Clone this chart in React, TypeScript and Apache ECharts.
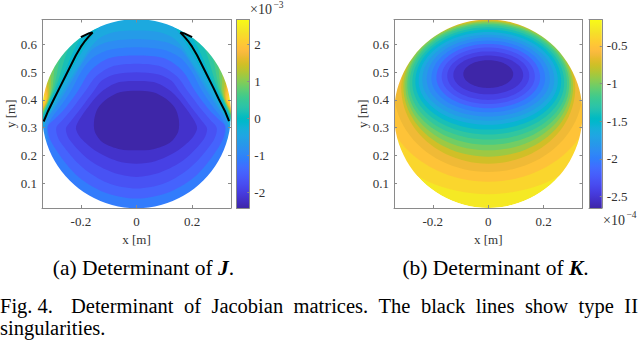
import React, { useEffect, useRef } from "react";
import * as echarts from "echarts";

// ---------- colormap (MATLAB parula, 64 entries) ----------
const PARULA: number[][] = [
  [0.2422,0.1504,0.6603],[0.2504,0.165,0.7076],[0.2578,0.1818,0.7511],[0.2647,0.1978,0.7952],
  [0.2706,0.2147,0.8364],[0.2751,0.2342,0.871],[0.2783,0.2559,0.8991],[0.2803,0.2782,0.9221],
  [0.2813,0.3006,0.9414],[0.281,0.3228,0.9579],[0.2795,0.3447,0.9717],[0.276,0.3667,0.9829],
  [0.2699,0.3892,0.9906],[0.2602,0.4123,0.9952],[0.244,0.4358,0.9988],[0.2206,0.4603,0.9973],
  [0.1963,0.4847,0.9892],[0.1834,0.5074,0.9798],[0.1786,0.5289,0.9682],[0.1764,0.5499,0.952],
  [0.1687,0.5703,0.9359],[0.154,0.5902,0.9218],[0.146,0.6091,0.9079],[0.138,0.6276,0.8973],
  [0.1248,0.6459,0.8883],[0.1113,0.6635,0.8763],[0.0952,0.6798,0.8598],[0.0689,0.6948,0.8394],
  [0.0297,0.7082,0.8163],[0.0036,0.7203,0.7917],[0.0067,0.7312,0.766],[0.0433,0.7411,0.7394],
  [0.0964,0.75,0.712],[0.1408,0.7584,0.6842],[0.1717,0.767,0.6554],[0.1938,0.7758,0.6251],
  [0.2161,0.7843,0.5923],[0.247,0.7918,0.5567],[0.2906,0.7973,0.5188],[0.3406,0.8008,0.4789],
  [0.3909,0.8029,0.4354],[0.4456,0.8024,0.3909],[0.5044,0.7993,0.348],[0.5616,0.7942,0.3045],
  [0.6174,0.7876,0.2612],[0.672,0.7793,0.2227],[0.7242,0.7698,0.191],[0.7738,0.7598,0.1646],
  [0.8203,0.7498,0.1535],[0.8634,0.7406,0.1596],[0.9035,0.733,0.1774],[0.9393,0.7288,0.21],
  [0.9728,0.7298,0.2394],[0.9956,0.7434,0.2371],[0.997,0.7659,0.2199],[0.9952,0.7893,0.2028],
  [0.9892,0.8136,0.1885],[0.9786,0.8386,0.1766],[0.9676,0.8639,0.1643],[0.961,0.889,0.1537],
  [0.9597,0.9135,0.1423],[0.9628,0.9373,0.1265],[0.9691,0.9606,0.1064],[0.9769,0.9839,0.0805],
];

// ---------- shared axes ----------
const X_RANGE = [-0.34, 0.34];
const Y_RANGE = [0.01, 0.69];
const X_TICKS = [-0.2, 0, 0.2];
const Y_TICKS = [0.1, 0.2, 0.3, 0.4, 0.5, 0.6];
const DISK = [0, 0.35, 0.34]; // centre x, centre y, radius of the workspace

// ---------- (a) determinant of J, x1e-3 ----------
const CLIM_A = [-2.43, 2.68];
const CBAR_TICKS_A = [-2, -1, 0, 1, 2];
const LEVELS_A = [-2.43, -2.17, -1.92, -1.66, -1.41, -1.15, -0.9, -0.64, -0.39, -0.13,
  0.13, 0.38, 0.64, 0.89, 1.15, 1.4, 1.66, 1.92, 2.17, 2.43];
// sublevel outlines for levels 1..9 (right half, x >= 0, top to bottom)
const CONTOURS_A: number[][][] = [
  [[0,0.433],[0.06,0.428],[0.105,0.405],[0.138,0.372],[0.152,0.33],[0.15,0.285],[0.12,0.245],[0.06,0.222],[0,0.218]],
  [[0,0.468],[0.07,0.462],[0.125,0.43],[0.17,0.38],[0.205,0.33],[0.218,0.298],[0.2,0.262],[0.14,0.212],[0.07,0.18],[0,0.17]],
  [[0,0.5],[0.08,0.492],[0.125,0.47],[0.155,0.43],[0.2,0.37],[0.235,0.325],[0.254,0.296],[0.24,0.255],[0.17,0.183],[0.087,0.139],[0,0.122]],
  [[0,0.53],[0.09,0.52],[0.145,0.485],[0.185,0.43],[0.23,0.37],[0.265,0.328],[0.289,0.298],[0.275,0.25],[0.195,0.157],[0.103,0.1],[0,0.08]],
  [[0,0.56],[0.1,0.55],[0.165,0.505],[0.212,0.43],[0.255,0.372],[0.295,0.33],[0.319,0.304],[0.305,0.245],[0.22,0.132],[0.117,0.067],[0,0.044]],
  [[0,0.59],[0.1,0.58],[0.16,0.55],[0.2,0.5],[0.237,0.43],[0.275,0.375],[0.305,0.335],[0.322,0.3],[0.325,0.235],[0.42,0.2],[0.42,-0.1],[0,-0.1]],
  [[0,0.62],[0.1,0.61],[0.155,0.585],[0.19,0.54],[0.22,0.49],[0.255,0.43],[0.29,0.375],[0.318,0.335],[0.332,0.3],[0.335,0.265],[0.43,0.22],[0.43,-0.1],[0,-0.1]],
  [[0,0.65],[0.08,0.645],[0.13,0.625],[0.165,0.59],[0.2,0.535],[0.235,0.48],[0.265,0.43],[0.298,0.375],[0.322,0.335],[0.34,0.29],[0.44,0.25],[0.44,-0.1],[0,-0.1]],
  [[0,0.8],[0.1,0.8],[0.13,0.67],[0.15,0.645],[0.18,0.6],[0.21,0.55],[0.245,0.49],[0.275,0.435],[0.303,0.38],[0.32,0.34],[0.345,0.31],[0.45,0.27],[0.45,-0.1],[0,-0.1]],
];
// superlevel lobes for levels 10..19 along the rim (angle from disk centre, deg; depth in m)
const LOBE_START = [-4, -3, -2, -1, 0, 1, 2, 3.5, 5, 7];
const LOBE_END = [54, 44, 36, 30, 25, 21, 18, 15.5, 13, 11];
const LOBE_DEPTH = [0.042, 0.034, 0.028, 0.024, 0.021, 0.018, 0.015, 0.012, 0.008, 0.005];
// type II singularity curves (det J = 0)
const SING_LEFT = [[-0.334,0.322],[-0.318,0.36],[-0.296,0.405],[-0.275,0.447],[-0.254,0.489],[-0.236,0.525],[-0.218,0.561],[-0.2,0.592],[-0.188,0.609],[-0.172,0.628],[-0.158,0.643],[-0.172,0.64],[-0.187,0.633],[-0.2,0.626]];
const SING_RIGHT = [[0.333,0.323],[0.318,0.36],[0.295,0.405],[0.275,0.447],[0.254,0.489],[0.236,0.525],[0.218,0.561],[0.2,0.592],[0.188,0.609],[0.172,0.628],[0.158,0.643],[0.172,0.64],[0.187,0.633],[0.2,0.626]];

// ---------- (b) determinant of K, x1e-4 ----------
const CLIM_B = [-2.65, -0.15];
const CBAR_TICKS_B = [-2.5, -2, -1.5, -1, -0.5];
const LEVELS_B = [-2.65, -2.525, -2.4, -2.275, -2.15, -2.025, -1.9, -1.775, -1.65, -1.525,
  -1.4, -1.275, -1.15, -1.025, -0.9, -0.775, -0.65, -0.525, -0.4, -0.275];
// oval contours for levels 1..19: top / bottom crossing on x = 0, half width, height of widest point
const EGG_TOP = [0.543,0.56,0.575,0.589,0.602,0.614,0.625,0.635,0.645,0.654,0.662,0.669,0.675,0.68,0.684,0.688,0.72,0.76,0.82];
const EGG_BOTTOM = [0.443,0.42,0.4,0.385,0.37,0.355,0.34,0.325,0.31,0.293,0.275,0.257,0.238,0.218,0.195,0.17,0.14,0.105,0.06];
const EGG_HALF_WIDTH = [0.09,0.126,0.148,0.168,0.187,0.205,0.222,0.238,0.251,0.263,0.274,0.284,0.292,0.299,0.306,0.314,0.34,0.38,0.44];
const EGG_MID = [0.493,0.49,0.487,0.484,0.481,0.478,0.475,0.472,0.469,0.466,0.462,0.458,0.455,0.452,0.448,0.444,0.435,0.425,0.41];

// ---------- captions ----------
const CAPTION_A = "(a) Determinant of ";
const CAPTION_B = "(b) Determinant of ";
const FIG_LABEL = "Fig. 4.";
const FIG_WORDS = ["Determinant", "of", "Jacobian", "matrices.", "The", "black", "lines", "show", "type", "II"];
const FIG_LINE2 = "singularities.";

const SERIF = "'Liberation Serif', 'Times New Roman', 'DejaVu Serif', serif";
const AXIS_COLOR = "#8a8a8a";
const TICK_FONT = { fontFamily: SERIF, fontSize: 13, color: "#333" };

function mapColor(v: number, clim: number[]): string {
  const t = (v - clim[0]) / (clim[1] - clim[0]);
  const i = Math.max(0, Math.min(PARULA.length - 1, Math.floor(t * PARULA.length + 1e-9)));
  const c = PARULA[i];
  return `rgb(${Math.round(c[0] * 255)},${Math.round(c[1] * 255)},${Math.round(c[2] * 255)})`;
}

function mirror(half: number[][]): number[][] {
  const left = half.slice().reverse().filter((p) => p[0] !== 0).map((p) => [-p[0], p[1]]);
  return half.concat(left);
}

function lobePoints(s: number, e: number, d: number, side: number): number[][] {
  const [, cy, R] = DISK;
  const pts: number[][] = [];
  const N = 18;
  for (let j = 0; j <= N; j++) {
    const t = j / N;
    const phi = ((s + (e - s) * t) * Math.PI) / 180;
    const rho = R - d * Math.sin(Math.PI * t);
    pts.push([side * rho * Math.cos(phi), cy + rho * Math.sin(phi)]);
  }
  for (let j = N; j >= 0; j -= 3) {
    const phi = ((s + (e - s) * (j / N)) * Math.PI) / 180;
    const rho = R + 0.12;
    pts.push([side * rho * Math.cos(phi), cy + rho * Math.sin(phi)]);
  }
  return pts;
}

function eggPoints(i: number): number[][] {
  const pts: number[][] = [];
  for (let j = 0; j < 96; j++) {
    const th = (j / 96) * 2 * Math.PI;
    const s = Math.sin(th);
    const h = s >= 0 ? EGG_TOP[i] - EGG_MID[i] : EGG_MID[i] - EGG_BOTTOM[i];
    pts.push([EGG_HALF_WIDTH[i] * Math.cos(th), EGG_MID[i] + h * s]);
  }
  return pts;
}

function diskPx(api: any) {
  const c = api.coord([DISK[0], DISK[1]]);
  const r = api.coord([DISK[0] + DISK[2], DISK[1]])[0] - c[0];
  return { c, r };
}

function renderPlotA(_p: any, api: any) {
  const P = (p: number[]) => api.coord(p);
  const { c, r } = diskPx(api);
  const children: any[] = [];
  children.push({ type: "circle", shape: { cx: c[0], cy: c[1], r }, style: { fill: mapColor(LEVELS_A[9], CLIM_A) } });
  for (let k = CONTOURS_A.length; k >= 1; k--) {
    children.push({
      type: "polygon",
      shape: { points: mirror(CONTOURS_A[k - 1]).map(P), smooth: 0.3 },
      style: { fill: mapColor(LEVELS_A[k - 1], CLIM_A) },
    });
  }
  LOBE_START.forEach((s, i) => {
    [1, -1].forEach((side) => {
      children.push({
        type: "polygon",
        shape: { points: lobePoints(s, LOBE_END[i], LOBE_DEPTH[i], side).map(P) },
        style: { fill: mapColor(LEVELS_A[10 + i], CLIM_A) },
      });
    });
  });
  children.push({ type: "ring", shape: { cx: c[0], cy: c[1], r: r + 45, r0: r }, style: { fill: "#fff" } });
  return { type: "group", children };
}

function renderPlotB(_p: any, api: any) {
  const P = (p: number[]) => api.coord(p);
  const { c, r } = diskPx(api);
  const children: any[] = [];
  children.push({ type: "circle", shape: { cx: c[0], cy: c[1], r }, style: { fill: mapColor(LEVELS_B[19], CLIM_B) } });
  for (let k = EGG_TOP.length; k >= 1; k--) {
    children.push({
      type: "polygon",
      shape: { points: eggPoints(k - 1).map(P) },
      style: { fill: mapColor(LEVELS_B[k - 1], CLIM_B) },
    });
  }
  children.push({ type: "ring", shape: { cx: c[0], cy: c[1], r: r + 45, r0: r }, style: { fill: "#fff" } });
  return { type: "group", children };
}

function renderColorbar(clim: number[]) {
  const stops = PARULA.map((c, i) => ({
    offset: i / (PARULA.length - 1),
    color: `rgb(${Math.round(c[0] * 255)},${Math.round(c[1] * 255)},${Math.round(c[2] * 255)})`,
  }));
  return (_p: any, api: any) => {
    const tl = api.coord([0, clim[1]]);
    const br = api.coord([1, clim[0]]);
    return {
      type: "rect",
      shape: { x: tl[0], y: tl[1], width: br[0] - tl[0], height: br[1] - tl[1] },
      style: { fill: new echarts.graphic.LinearGradient(0, 1, 0, 0, stops) },
    };
  };
}

function boxAxes(grid: number, xr: number[], yr: number[], xt: number[] | null, yt: number[] | null, labelsRight: number[] | null) {
  const line = { show: true, onZero: false, lineStyle: { color: AXIS_COLOR, width: 1 } };
  const xs = [
    {
      gridIndex: grid, type: "value", min: xr[0], max: xr[1], position: "bottom", z: 10,
      axisLine: line, splitLine: { show: false },
      axisTick: xt ? { show: true, inside: true, length: 3, customValues: xt, lineStyle: { color: AXIS_COLOR } } : { show: false },
      axisLabel: xt ? { show: true, customValues: xt, margin: 7, ...TICK_FONT } : { show: false },
      name: xt ? "x [m]" : "", nameLocation: "middle", nameGap: 25, nameTextStyle: { ...TICK_FONT },
    },
    {
      gridIndex: grid, type: "value", min: xr[0], max: xr[1], position: "top", z: 10,
      axisLine: line, splitLine: { show: false },
      axisTick: xt ? { show: true, inside: true, length: 3, customValues: xt, lineStyle: { color: AXIS_COLOR } } : { show: false },
      axisLabel: { show: false },
    },
  ];
  const ys = [
    {
      gridIndex: grid, type: "value", min: yr[0], max: yr[1], position: "left", z: 10,
      axisLine: line, splitLine: { show: false },
      axisTick: yt ? { show: true, inside: true, length: 3, customValues: yt, lineStyle: { color: AXIS_COLOR } } : { show: false },
      axisLabel: yt ? { show: true, customValues: yt, margin: 5, ...TICK_FONT } : { show: false },
      name: yt ? "y [m]" : "", nameLocation: "middle", nameGap: 25, nameTextStyle: { ...TICK_FONT },
    },
    {
      gridIndex: grid, type: "value", min: yr[0], max: yr[1], position: "right", z: 10,
      axisLine: line, splitLine: { show: false },
      axisTick: yt || labelsRight
        ? { show: true, inside: true, length: labelsRight ? 2 : 3, customValues: (labelsRight || yt) as number[], lineStyle: { color: AXIS_COLOR } }
        : { show: false },
      axisLabel: labelsRight ? { show: true, customValues: labelsRight, margin: 5, ...TICK_FONT } : { show: false },
    },
  ];
  return { xs, ys };
}

export default function App() {
  const ref = useRef<HTMLDivElement>(null);
  useEffect(() => {
    if (!ref.current) return;
    const chart = echarts.init(ref.current, undefined, { renderer: "svg" });

    const a = boxAxes(0, X_RANGE, Y_RANGE, X_TICKS, Y_TICKS, null);
    const ca = boxAxes(1, [0, 1], CLIM_A, null, null, CBAR_TICKS_A);
    const b = boxAxes(2, X_RANGE, Y_RANGE, X_TICKS, Y_TICKS, null);
    const cb = boxAxes(3, [0, 1], CLIM_B, null, null, CBAR_TICKS_B);

    // justified caption line
    const ctx = document.createElement("canvas").getContext("2d")!;
    const capFont = 20.5;
    ctx.font = `${capFont}px ${SERIF}`;
    const widths = FIG_WORDS.map((w) => ctx.measureText(w).width);
    const startX = 71, endX = 638;
    const gap = (endX - startX - widths.reduce((s, w) => s + w, 0)) / (FIG_WORDS.length - 1);
    let cursor = startX;
    const wordEls = FIG_WORDS.map((w, i) => {
      const el = {
        type: "text", x: cursor, y: 306, z: 100,
        style: { text: w, fontFamily: SERIF, fontSize: capFont, fill: "#000", align: "left", verticalAlign: "middle" },
      };
      cursor += widths[i] + gap;
      return el;
    });

    const subRich = {
      n: { fontFamily: SERIF, fontSize: 21.5, fill: "#000" },
      m: { fontFamily: SERIF, fontSize: 21.5, fontWeight: "bold", fontStyle: "italic", fill: "#000" },
    };

    chart.setOption({
      animation: false,
      backgroundColor: "#fff",
      grid: [
        { left: 42, top: 19.5, width: 189, height: 188.5 },
        { left: 236.5, top: 19.5, width: 12.8, height: 188.5 },
        { left: 394, top: 19.5, width: 188.5, height: 188.5 },
        { left: 589, top: 19.5, width: 12.8, height: 188.5 },
      ],
      xAxis: [...a.xs, ...ca.xs, ...b.xs, ...cb.xs],
      yAxis: [...a.ys, ...ca.ys, ...b.ys, ...cb.ys],
      series: [
        { type: "custom", xAxisIndex: 0, yAxisIndex: 0, data: [[0, 0.35]], renderItem: renderPlotA, clip: true, z: 2, silent: true },
        { type: "line", xAxisIndex: 0, yAxisIndex: 0, data: SING_LEFT, symbol: "none", lineStyle: { color: "#000", width: 2 }, z: 4, silent: true },
        { type: "line", xAxisIndex: 0, yAxisIndex: 0, data: SING_RIGHT, symbol: "none", lineStyle: { color: "#000", width: 2 }, z: 4, silent: true },
        { type: "custom", xAxisIndex: 2, yAxisIndex: 2, data: [[0.5, 0]], renderItem: renderColorbar(CLIM_A), z: 5, silent: true },
        { type: "custom", xAxisIndex: 4, yAxisIndex: 4, data: [[0, 0.35]], renderItem: renderPlotB, clip: true, z: 2, silent: true },
        { type: "custom", xAxisIndex: 6, yAxisIndex: 6, data: [[0.5, -1]], renderItem: renderColorbar(CLIM_B), z: 5, silent: true },
      ],
      graphic: [
        { type: "text", x: 250, y: 9.5, z: 100, style: { text: "×10", fontFamily: SERIF, fontSize: 14, fill: "#333", align: "left", verticalAlign: "middle" } },
        { type: "text", x: 273.5, y: 4.5, z: 100, style: { text: "−3", fontFamily: SERIF, fontSize: 9.5, fill: "#333", align: "left", verticalAlign: "middle" } },
        { type: "text", x: 603, y: 220, z: 100, style: { text: "×10", fontFamily: SERIF, fontSize: 14, fill: "#333", align: "left", verticalAlign: "middle" } },
        { type: "text", x: 626.5, y: 215, z: 100, style: { text: "−4", fontFamily: SERIF, fontSize: 9.5, fill: "#333", align: "left", verticalAlign: "middle" } },
        { type: "text", x: 143.5, y: 268, z: 100, style: { text: `{n|${CAPTION_A}}{m|J}{n|.}`, rich: subRich, align: "center", verticalAlign: "middle" } },
        { type: "text", x: 495.5, y: 268, z: 100, style: { text: `{n|${CAPTION_B}}{m|K}{n|.}`, rich: subRich, align: "center", verticalAlign: "middle" } },
        { type: "text", x: 0, y: 306, z: 100, style: { text: FIG_LABEL, fontFamily: SERIF, fontSize: capFont, fill: "#000", align: "left", verticalAlign: "middle" } },
        ...wordEls,
        { type: "text", x: 0, y: 328, z: 100, style: { text: FIG_LINE2, fontFamily: SERIF, fontSize: capFont, fill: "#000", align: "left", verticalAlign: "middle" } },
      ],
    });
    return () => chart.dispose();
  }, []);
  return <div ref={ref} style={{ position: "fixed", left: 0, top: 0, width: 640, height: 341, background: "#fff" }} />;
}
